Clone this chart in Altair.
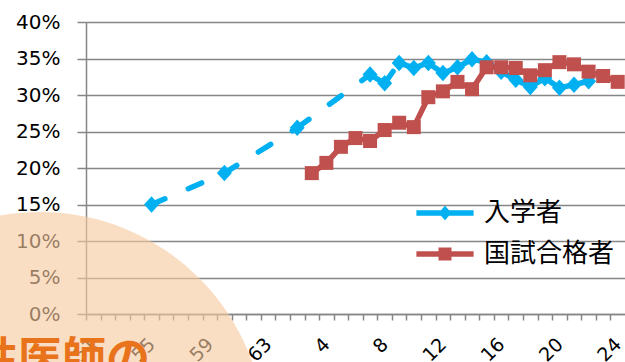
import altair as alt
import pandas as pd

# --- data -------------------------------------------------------------
SERIES = ["入学者", "国試合格者"]
COLORS = ["#00B0F0", "#C0504D"]

ENTRANT_YEARS = [1980, 1985, 1990, 1995, 1996, 1997, 1998, 1999, 2000,
                 2001, 2002, 2003, 2004, 2005, 2006, 2007, 2008, 2009, 2010]
ENTRANT_SHARE = [0.150, 0.193, 0.255, 0.328, 0.316, 0.344, 0.337, 0.344, 0.330,
                 0.338, 0.349, 0.345, 0.332, 0.321, 0.311, 0.323, 0.310, 0.314, 0.319]

PASSER_YEARS = [1991, 1992, 1993, 1994, 1995, 1996, 1997, 1998, 1999, 2000, 2001,
                2002, 2003, 2004, 2005, 2006, 2007, 2008, 2009, 2010, 2011, 2012]
PASSER_SHARE = [0.193, 0.207, 0.229, 0.241, 0.237, 0.252, 0.262, 0.256, 0.297, 0.305, 0.318,
                0.308, 0.338, 0.338, 0.337, 0.327, 0.334, 0.345, 0.342, 0.332, 0.326, 0.318]

AXIS_YEARS = list(range(1976, 2013))
LABEL_YEARS = [1976, 1980, 1984, 1988, 1992, 1996, 2000, 2004, 2008, 2012]
LABEL_TEXT = ["51", "55", "59", "63", "4", "8", "12", "16", "20", "24"]
Y_TICKS = [0, 0.05, 0.10, 0.15, 0.20, 0.25, 0.30, 0.35, 0.40]

BADGE_TEXT = "女性医師の"

# --- layout -------------------------------------------------------------
W, H = 539, 292
HALF_BAND = W / len(AXIS_YEARS) / 2
GRID = "#868686"

entrants = pd.DataFrame({"series": SERIES[0], "year": ENTRANT_YEARS, "share": ENTRANT_SHARE})
passers = pd.DataFrame({"series": SERIES[1], "year": PASSER_YEARS, "share": PASSER_SHARE})
points = pd.concat([entrants, passers], ignore_index=True)

# one path per pair of neighbours, so every dash pattern starts at a marker
seg_rows = []
for i in range(len(ENTRANT_YEARS) - 1):
    for j in (i, i + 1):
        seg_rows.append({"seg": i, "year": ENTRANT_YEARS[j], "share": ENTRANT_SHARE[j]})
entrant_segments = pd.DataFrame(seg_rows)

label_expr = "''"
for yr, txt in reversed(list(zip(LABEL_YEARS, LABEL_TEXT))):
    label_expr = f"datum.value === {yr} ? '{txt}' : ({label_expr})"

x_enc = alt.X(
    "year:Q",
    scale=alt.Scale(domain=[AXIS_YEARS[0] - 0.5, AXIS_YEARS[-1] + 0.5], nice=False, zero=False),
    axis=alt.Axis(
        title=None, values=AXIS_YEARS, labelExpr=label_expr, grid=False,
        tickOffset=-HALF_BAND, labelOffset=HALF_BAND,
        tickSize=6, tickColor=GRID, tickWidth=1.5,
        domainColor=GRID, domainWidth=1.5,
        labelAngle=-45, labelAlign="right", labelBaseline="middle",
        labelFont="DejaVu Sans", labelFontSize=19, labelColor="#000000",
        labelPadding=21, labelOverlap=False, labelFlush=False,
    ),
)
y_enc = alt.Y(
    "share:Q",
    scale=alt.Scale(domain=[0, 0.4], nice=False),
    axis=alt.Axis(
        title=None, values=Y_TICKS, format=".0%",
        grid=True, gridColor=GRID, gridWidth=1.5,
        tickSize=9, tickColor=GRID, tickWidth=1.5,
        domainColor=GRID, domainWidth=1.5,
        labelFont="DejaVu Sans", labelFontSize=20, labelColor="#000000",
        labelPadding=17,
    ),
)

# legend symbols: a bar for the line with the series marker on it
DIAMOND = "M0,-1.1L1,0L0,1.1L-1,0Z"
SQUARE = "M-1,-1H1V1H-1Z"
LEG_BAR = "M-4.4,-0.42H4.4V0.42H-4.4Z "
legend = alt.Legend(
    title=None, orient="none", legendX=346, legendY=178, padding=0,
    symbolSize=169, symbolStrokeWidth=0, symbolOpacity=1, labelOffset=26,
    labelFont="Noto Sans CJK JP", labelFontSize=26, labelColor="#000000",
    labelLimit=400, rowPadding=15,
)
legend_key = alt.Chart(points).transform_filter("false").mark_point(
    filled=True, opacity=1
).encode(
    x=x_enc, y=y_enc,
    color=alt.Color("series:N", scale=alt.Scale(domain=SERIES, range=COLORS), legend=legend),
    shape=alt.Shape("series:N",
                    scale=alt.Scale(domain=SERIES, range=[LEG_BAR + DIAMOND, LEG_BAR + SQUARE]),
                    legend=legend),
)

entrant_line = alt.Chart(entrant_segments).mark_line(
    color=COLORS[0], strokeWidth=5.5, strokeDash=[14.5, 25.5], strokeCap="round"
).encode(x=x_enc, y=y_enc, detail="seg:N")

passer_line = alt.Chart(passers).mark_line(
    color=COLORS[1], strokeWidth=5.5, strokeCap="round", strokeJoin="round"
).encode(x=x_enc, y=y_enc)

entrant_pts = alt.Chart(entrants).mark_point(
    filled=True, opacity=1, size=225, shape=DIAMOND, color=COLORS[0]
).encode(x=x_enc, y=y_enc)
passer_pts = alt.Chart(passers).mark_point(
    filled=True, opacity=1, size=196, shape="square", color=COLORS[1]
).encode(x=x_enc, y=y_enc)

one_row = alt.Data(values=[{}])
badge_disc = alt.Chart(one_row).mark_point(
    shape="circle", filled=True, color="#F7C9A0", opacity=0.62, size=450 ** 2
).encode(x=alt.value(-46), y=alt.value(415))
badge_text = alt.Chart(one_row).mark_text(
    text=BADGE_TEXT, font="Noto Sans CJK JP", fontSize=44, fontWeight="bold",
    color="#E8731A", align="left", baseline="alphabetic"
).encode(x=alt.value(-156), y=alt.value(352))

chart = alt.layer(
    legend_key, entrant_line, entrant_pts, passer_line, passer_pts, badge_disc, badge_text
).properties(
    width=W, height=H, autosize="none",
    padding={"left": 86, "top": 22, "right": 0, "bottom": 48},
).configure_view(stroke=None).configure(background="white")

chart.save("out.html", embed_options={"renderer": "svg", "actions": False})
